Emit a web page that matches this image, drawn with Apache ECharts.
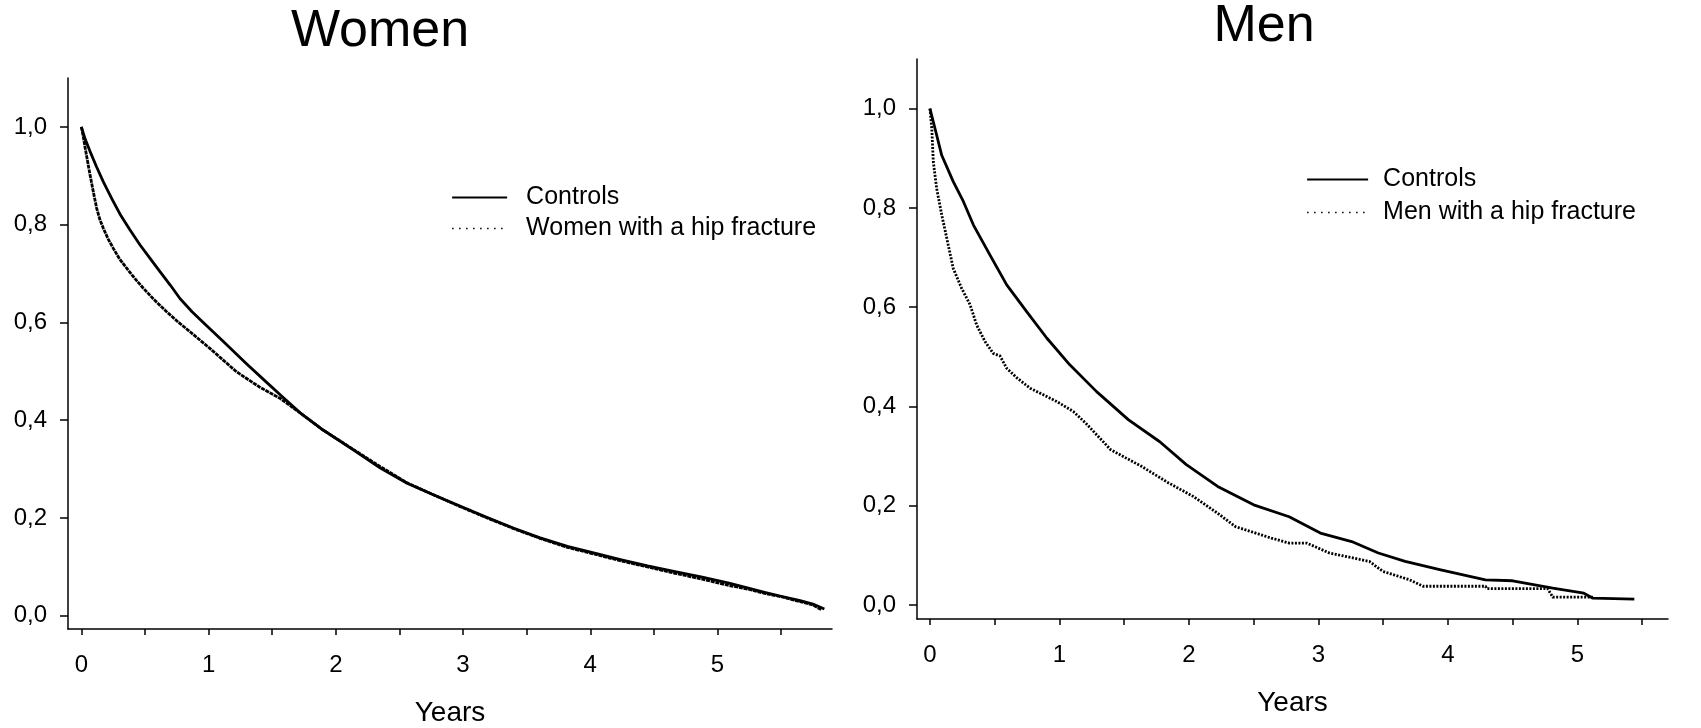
<!DOCTYPE html>
<html><head><meta charset="utf-8">
<script src="https://cdn.jsdelivr.net/npm/echarts@6/dist/echarts.min.js"></script>
<style>html,body{margin:0;padding:0;background:#fff}#c{width:1701px;height:728px}</style>
</head><body><div id="c"></div>
<script>
const panelTitles = ['Women', 'Men'];
const womenNames = ['Controls', 'Women with a hip fracture'];
const menNames = ['Controls', 'Men with a hip fracture'];
const xAxisName = 'Years';
const xTickValues = [0, 0.5, 1, 1.5, 2, 2.5, 3, 3.5, 4, 4.5, 5, 5.5];
const xLabelValues = [0, 1, 2, 3, 4, 5];
const yLabelValues = [0, 0.2, 0.4, 0.6, 0.8, 1.0];

const womenControlsYears = [0, 0.03, 0.068, 0.12, 0.172, 0.24, 0.303, 0.38, 0.46, 0.54, 0.618, 0.7, 0.775, 0.87, 0.958, 1.116, 1.3, 1.45, 1.58, 1.72, 1.9, 2.14, 2.35, 2.56, 2.78, 2.98, 3.2, 3.4, 3.6, 3.82, 4.05, 4.245, 4.45, 4.666, 4.88, 5.09, 5.25, 5.37, 5.5, 5.65, 5.75, 5.84];
const womenControlsSurv = [1.0, 0.975, 0.95, 0.918, 0.888, 0.853, 0.822, 0.79, 0.759, 0.731, 0.704, 0.676, 0.649, 0.622, 0.6, 0.561, 0.515, 0.479, 0.448, 0.415, 0.38, 0.339, 0.302, 0.271, 0.246, 0.224, 0.2, 0.179, 0.16, 0.142, 0.127, 0.1145, 0.102, 0.0906, 0.079, 0.0668, 0.056, 0.048, 0.04, 0.031, 0.024, 0.014];
const womenHipYears = [0, 0.015, 0.03, 0.05, 0.068, 0.095, 0.12, 0.145, 0.172, 0.21, 0.25, 0.3, 0.356, 0.42, 0.487, 0.57, 0.67, 0.76, 0.854, 1.01, 1.22, 1.4, 1.56, 1.72, 1.9, 2.14, 2.35, 2.56, 2.78, 2.98, 3.2, 3.4, 3.6, 3.82, 4.05, 4.245, 4.45, 4.666, 4.88, 5.09, 5.25, 5.37, 5.5, 5.65, 5.75, 5.82];
const womenHipSurv = [1.0, 0.98, 0.957, 0.928, 0.902, 0.866, 0.834, 0.811, 0.793, 0.771, 0.752, 0.73, 0.711, 0.69, 0.67, 0.647, 0.622, 0.601, 0.581, 0.547, 0.499, 0.468, 0.445, 0.415, 0.38, 0.34, 0.305, 0.272, 0.246, 0.223, 0.199, 0.178, 0.159, 0.14, 0.125, 0.112, 0.1, 0.087, 0.075, 0.062, 0.054, 0.046, 0.039, 0.029, 0.022, 0.012];

const menControlsYears = [0, 0.039, 0.091, 0.18, 0.258, 0.335, 0.464, 0.593, 0.747, 0.902, 1.08, 1.287, 1.534, 1.775, 1.98, 2.222, 2.5, 2.774, 3.015, 3.257, 3.463, 3.67, 3.945, 4.29, 4.5, 4.81, 5.05, 5.12, 5.44];
const menControlsSurv = [1.0, 0.96, 0.906, 0.853, 0.813, 0.766, 0.705, 0.645, 0.591, 0.538, 0.484, 0.43, 0.373, 0.329, 0.283, 0.239, 0.202, 0.178, 0.145, 0.128, 0.105, 0.088, 0.071, 0.051, 0.049, 0.034, 0.024, 0.014, 0.012];
const menHipYears = [0, 0.014, 0.026, 0.052, 0.091, 0.13, 0.18, 0.245, 0.31, 0.361, 0.425, 0.489, 0.541, 0.593, 0.67, 0.773, 0.98, 1.107, 1.205, 1.396, 1.637, 1.843, 2.033, 2.222, 2.36, 2.636, 2.774, 2.91, 3.084, 3.394, 3.497, 3.704, 3.808, 4.29, 4.3, 4.77, 4.81, 5.12];
const menHipSurv = [1.0, 0.96, 0.893, 0.839, 0.786, 0.739, 0.678, 0.638, 0.605, 0.564, 0.531, 0.507, 0.502, 0.477, 0.458, 0.437, 0.41, 0.39, 0.366, 0.313, 0.279, 0.246, 0.219, 0.185, 0.158, 0.135, 0.125, 0.125, 0.105, 0.088, 0.068, 0.051, 0.038, 0.038, 0.033, 0.033, 0.016, 0.016];

const FONT = 'Liberation Sans, Arial, sans-serif';
const zip = (xs, ys) => xs.map((x, i) => [x, ys[i]]);

function xAxisCfg(gi, min, max) {
  return {
    type: 'value', gridIndex: gi, min: min, max: max,
    splitLine: { show: false },
    axisLine: { show: true, onZero: false, lineStyle: { color: '#000', width: 1.5 } },
    axisTick: { show: true, length: 6, customValues: xTickValues, lineStyle: { color: '#000', width: 1.5 } },
    axisLabel: { customValues: xLabelValues, color: '#000', fontSize: 24, fontFamily: FONT, margin: 24 },
    name: xAxisName, nameLocation: 'middle', nameGap: 70,
    nameTextStyle: { color: '#000', fontSize: 28, fontFamily: FONT }
  };
}
function yAxisCfg(gi, min) {
  return {
    type: 'value', gridIndex: gi, min: min, max: 1.1,
    splitLine: { show: false },
    axisLine: { show: true, onZero: false, lineStyle: { color: '#000', width: 1.5 } },
    axisTick: { show: true, length: 8, customValues: yLabelValues, lineStyle: { color: '#000', width: 1.5 } },
    axisLabel: { customValues: yLabelValues, color: '#000', fontSize: 24, fontFamily: FONT, margin: 21,
      formatter: v => v.toFixed(1).replace('.', ',') }
  };
}
function lineSeries(name, gi, data, dash) {
  return {
    type: 'line', name: name, xAxisIndex: gi, yAxisIndex: gi, data: data,
    symbol: 'none', showSymbol: false, smooth: false, animation: false,
    lineStyle: { color: '#000', width: 2.8, type: dash || 'solid', join: 'round', cap: 'butt' },
    itemStyle: { color: '#000' }
  };
}
function legendCfg(names, left, top, itemWidth, itemGap, pad) {
  return {
    orient: 'vertical', left: left, top: top, itemWidth: itemWidth, itemHeight: 14, itemGap: itemGap,
    selectedMode: false,
    textStyle: { color: '#000', fontSize: 25, fontFamily: FONT, padding: [0, 0, 0, pad] },
    data: [
      { name: names[0], lineStyle: { type: 'solid', width: 2.2, color: '#000' }, itemStyle: { opacity: 0 } },
      { name: names[1], lineStyle: { type: [1.5, 5.5], width: 1.6, color: '#000' }, itemStyle: { opacity: 0 } }
    ]
  };
}

const chart = echarts.init(document.getElementById('c'), null, { renderer: 'canvas' });
chart.setOption({
  animation: false,
  backgroundColor: '#fff',
  graphic: [
    { type: 'text', x: 380, y: 32, style: { text: panelTitles[0], font: '52px ' + FONT, fill: '#000', align: 'center', verticalAlign: 'middle' } },
    { type: 'text', x: 1264, y: 27, style: { text: panelTitles[1], font: '52px ' + FONT, fill: '#000', align: 'center', verticalAlign: 'middle' } }
  ],
  grid: [
    { left: 68, top: 78, width: 764, height: 551, outerBoundsMode: 'none', containLabel: false },
    { left: 917, top: 59, width: 751, height: 560, outerBoundsMode: 'none', containLabel: false }
  ],
  xAxis: [xAxisCfg(0, -0.105, 5.9), xAxisCfg(1, -0.1, 5.7)],
  yAxis: [yAxisCfg(0, -0.027), yAxisCfg(1, -0.028)],
  legend: [
    legendCfg(womenNames, 446, 180, 55, 6, 14),
    legendCfg(menNames, 1301, 162, 61, 8, 10)
  ],
  series: [
    lineSeries(womenNames[0], 0, zip(womenControlsYears, womenControlsSurv)),
    lineSeries(womenNames[1], 0, zip(womenHipYears, womenHipSurv), [4, 0.8]),
    lineSeries(menNames[0], 1, zip(menControlsYears, menControlsSurv)),
    lineSeries(menNames[1], 1, zip(menHipYears, menHipSurv), [2, 1.5])
  ]
});
</script></body></html>
